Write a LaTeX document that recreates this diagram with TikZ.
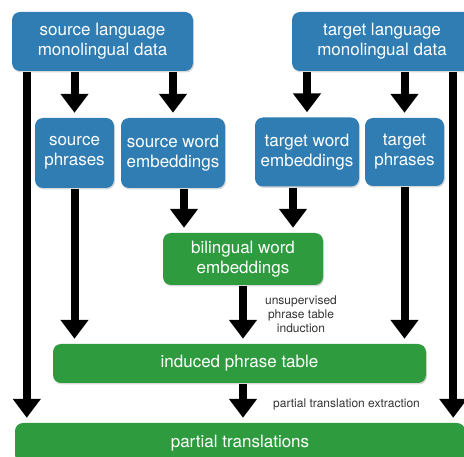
\documentclass[tikz,border=0pt]{standalone}
\usepackage{fontspec}
\setmainfont{TeX Gyre Heros}
\usepackage{xcolor}
\definecolor{boxblue}{HTML}{2F7DB3}
\definecolor{boxgreen}{HTML}{2E9B3F}
\definecolor{notegray}{HTML}{333333}
\usetikzlibrary{arrows.meta,shadows}

\begin{document}
\begin{tikzpicture}[x=1pt, y=-1pt, >={Triangle[width=27pt,length=19pt]},
  stepbox/.style={rounded corners=8pt, text=white, align=center, inner sep=0pt,
    font=\fontsize{17}{20}\selectfont,
    drop shadow={opacity=0.3, shadow xshift=1pt, shadow yshift=-1.5pt}},
  databox/.style={stepbox, fill=boxblue},
  joinbox/.style={stepbox, fill=boxgreen},
  flow/.style={->, line width=8pt, shorten >=5pt, shorten <=1pt},
  note/.style={text=notegray, align=center, font=\fontsize{12}{14}\selectfont}]
  \useasboundingbox (0,0) rectangle (464,457);
  % dữ liệu đơn ngữ
  \node[databox, minimum width=181pt, minimum height=59pt] (srclang) at (102.5,41.5)
    {source language\\monolingual data};
  \node[databox, minimum width=180pt, minimum height=59pt] (tgtlang) at (382,41.5)
    {target language\\monolingual data};
  % cụm từ và embedding
  \node[databox, minimum width=79pt, minimum height=70pt] (srcphr) at (74.5,153)
    {source\\phrases};
  \node[databox, minimum width=104pt, minimum height=70pt] (srcemb) at (173,153)
    {source word\\embeddings};
  \node[databox, minimum width=104pt, minimum height=69pt] (tgtemb) at (307,152)
    {target word\\embeddings};
  \node[databox, minimum width=79pt, minimum height=68pt] (tgtphr) at (404.5,152)
    {target\\phrases};
  % các bước chung
  \node[joinbox, minimum width=160pt, minimum height=52pt] (biling) at (243,259)
    {bilingual word\\embeddings};
  \node[joinbox, minimum width=373pt, minimum height=39pt] (induced) at (239.5,363.5)
    {induced phrase table};
  \node[joinbox, minimum width=450pt, minimum height=40pt] (partial) at (240,443)
    {partial translations};
  % mũi tên
  \draw[flow] (srclang.south -| srcphr.north) -- (srcphr.north);
  \draw[flow] (srclang.south -| srcemb.north) -- (srcemb.north);
  \draw[flow] (tgtlang.south -| tgtemb.north) -- (tgtemb.north);
  \draw[flow] (tgtlang.south -| tgtphr.north) -- (tgtphr.north);
  \draw[flow] ([xshift=11pt]srcemb.south) -- ([xshift=-59pt]biling.north);
  \draw[flow] ([xshift=-14pt]tgtemb.south) -- ([xshift=50pt]biling.north);
  \draw[flow] (srcphr.south) -- (srcphr.south |- induced.north);
  \draw[flow] (biling.south) -- (biling.south |- induced.north);
  \draw[flow] (tgtphr.south) -- (tgtphr.south |- induced.north);
  \draw[flow] (biling.south |- induced.south) -- (biling.south |- partial.north);
  % đường dài hai bên
  \coordinate (lfoot) at ([xshift=15pt]srclang.south west);
  \coordinate (rfoot) at ([xshift=-19pt]tgtlang.south east);
  \draw[flow] (lfoot) -- (lfoot |- partial.north);
  \draw[flow] (rfoot) -- (rfoot |- partial.north);
  % nhãn
  \node[note] (lblinduce) at (301,314) {unsupervised\\phrase table\\induction};
  \node[note] (lblextract) at (346.5,404) {partial translation extraction};
\end{tikzpicture}
\end{document}
